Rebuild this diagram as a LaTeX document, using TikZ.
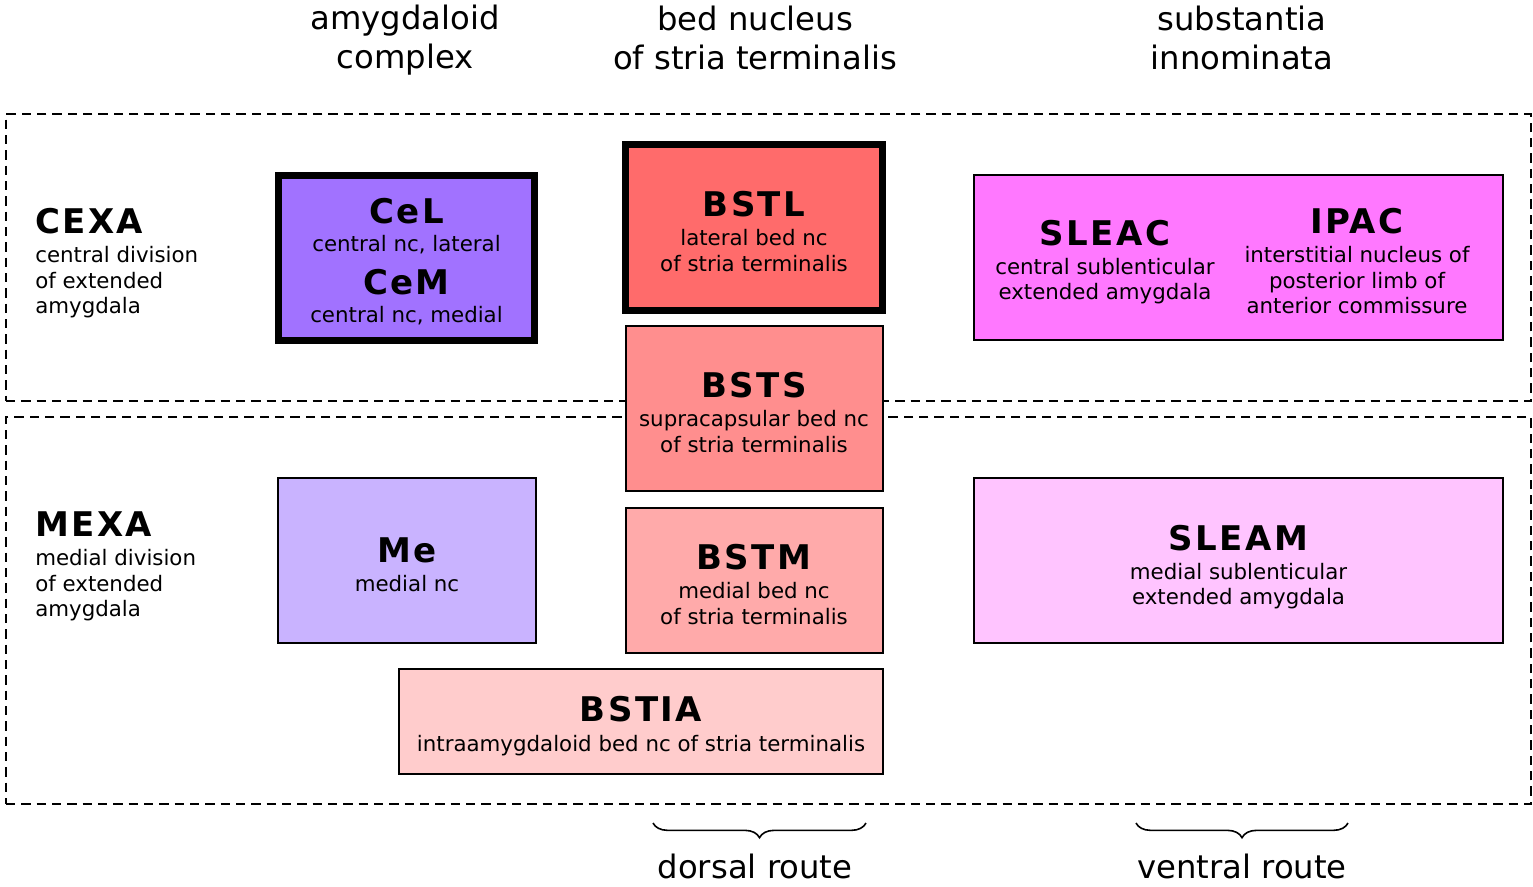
\documentclass[tikz,border=0pt]{standalone}
\usepackage{fontspec}
\setmainfont{DejaVu Sans}
\newfontfamily\tagfont{DejaVu Sans}[LetterSpace=7]
\usetikzlibrary{positioning,decorations.pathreplacing}

\definecolor{celfill}{HTML}{A172FF}
\definecolor{mefill}{HTML}{C9B3FF}
\definecolor{bstlfill}{HTML}{FF6B6B}
\definecolor{bstsfill}{HTML}{FF8E8E}
\definecolor{bstmfill}{HTML}{FFAAAA}
\definecolor{bstiafill}{HTML}{FFCCCC}
\definecolor{sleacfill}{HTML}{FF78FF}
\definecolor{sleamfill}{HTML}{FFC4FF}

\newcommand{\desc}{\fontsize{16}{19}\selectfont}
\newcommand{\heading}{\fontsize{24.2}{29.25}\selectfont}
\newcommand{\tagname}[1]{{\fontsize{25.5}{30}\selectfont\tagfont\bfseries #1}}
% strut on the first line pushes the text a little down in its box
\newcommand{\boxtag}[2][24.6pt]{\rule{0pt}{#1}\tagname{#2}}

\begin{document}
\begin{tikzpicture}[
  x=0.75pt, y=-0.75pt,
  region/.style={draw, line width=1.5pt, dash pattern=on 7pt off 4.5pt, inner sep=0pt,
                 minimum width=1143.75pt},
  nuc/.style={draw, line width=1.5pt, align=center, inner sep=0pt, font=\desc},
  heavy/.style={line width=5.5pt},
  side/.style={align=left, anchor=north west, inner sep=0pt, font=\desc},
  head/.style={align=center, inner sep=0pt, font=\heading},
  route/.style={decorate, decoration={brace, mirror, amplitude=11pt}, line width=1.2pt}
]
\useasboundingbox (0,0) rectangle (1533,886);

% column headings
\node[head] (amy) at (405,40) {amygdaloid\\complex};
\node[head] (bnst) at (755,37.5) {bed nucleus\\of stria terminalis};
\node[head] (si) at (1242,37.5) {substantia\\innominata};

% the two divisions
\node[region, minimum height=215.25pt] (cexa) at (768.5,257.5) {};
\node[region, minimum height=290.25pt] (mexa) at (768.5,610.5) {};

\node[side] (cexalbl) at (35,208) {\tagname{CEXA}\\[3pt] central division\\ of extended\\ amygdala};
\node[side] (mexalbl) at (35,511.5) {\tagname{MEXA}\\[3pt] medial division\\ of extended\\ amygdala};

% amygdaloid complex
\node[nuc, heavy, fill=celfill, minimum width=192pt, minimum height=123.75pt] (cel) at (406.5,258)
  {\boxtag{CeL}\\[2pt] central nc, lateral\\[10pt] \tagname{CeM}\\[2pt] central nc, medial};
\node[nuc, fill=mefill, minimum width=193.5pt, minimum height=123.75pt] (me) at (407,560.5)
  {\boxtag{Me}\\[3pt] medial nc};

% bed nucleus of stria terminalis
\node[nuc, heavy, fill=bstlfill, minimum width=192.75pt, minimum height=124.5pt] (bstl) at (754,227.5)
  {\boxtag{BSTL}\\[3pt] lateral bed nc\\ of stria terminalis};
\node[nuc, fill=bstsfill, minimum width=192.75pt, minimum height=123.75pt] (bsts) at (754,408.5)
  {\boxtag{BSTS}\\[3pt] supracapsular bed nc\\ of stria terminalis};
\node[nuc, fill=bstmfill, minimum width=192.75pt, minimum height=108.75pt] (bstm) at (754,580.5)
  {\boxtag{BSTM}\\[3pt] medial bed nc\\ of stria terminalis};
\node[nuc, fill=bstiafill, minimum width=363pt, minimum height=78.75pt] (bstia) at (641,721.5)
  {\boxtag[26pt]{BSTIA}\\[3pt] intraamygdaloid bed nc of stria terminalis};

% substantia innominata
\node[nuc, fill=sleacfill, minimum width=396.75pt, minimum height=123.75pt] (sub) at (1238.5,257.5) {};
\node[align=center, inner sep=0pt, font=\desc] (sleac) at (1105,262)
  {\tagname{SLEAC}\\[3pt] central sublenticular\\ extended amygdala};
\node[align=center, inner sep=0pt, font=\desc] (ipac) at (1357,261)
  {\tagname{IPAC}\\[3pt] interstitial nucleus of\\ posterior limb of\\ anterior commissure};
\node[nuc, fill=sleamfill, minimum width=396.75pt, minimum height=123.75pt] (sleam) at (1238.5,560.5)
  {\boxtag[29pt]{SLEAM}\\[3pt] medial sublenticular\\ extended amygdala};

% routes
\coordinate (dorsalL) at (653,823);
\coordinate (dorsalR) at (866,823);
\coordinate (ventralL) at (1136,823);
\coordinate (ventralR) at (1348,823);
\draw[route] (dorsalL) -- (dorsalR);
\draw[route] (ventralL) -- (ventralR);
\node[head] (dorsal) at (755,866) {dorsal route};
\node[head] (ventral) at (1242,866) {ventral route};
\end{tikzpicture}
\end{document}
